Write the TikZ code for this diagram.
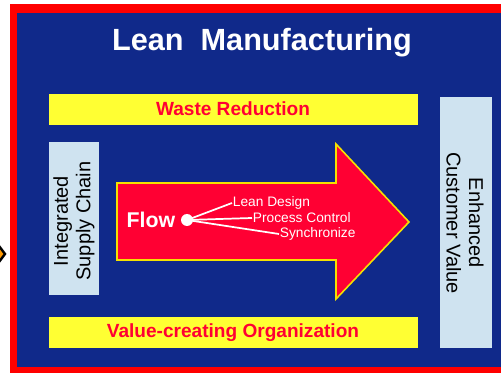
\documentclass[tikz,border=0pt]{standalone}
\usepackage{fontspec}
\setmainfont{Liberation Sans}
\definecolor{navy}{HTML}{10298A}
\definecolor{frame}{HTML}{FF0000}
\definecolor{barYellow}{HTML}{FFFF33}
\definecolor{paleBlue}{HTML}{CFE3F0}
\definecolor{arrowRed}{HTML}{FF0033}
\definecolor{edgeYellow}{HTML}{F5E100}
\tikzset{
  bar/.style={fill=barYellow, draw=none},
  sidebox/.style={fill=paleBlue, draw=none},
  bartext/.style={text=arrowRed, font=\bfseries\fontsize{14.3pt}{16pt}\selectfont, inner sep=0pt},
  sidetext/.style={text=black, font=\fontsize{15pt}{16.8pt}\selectfont, align=center, inner sep=0pt},
  subtext/.style={text=white, font=\fontsize{10.3pt}{12pt}\selectfont, anchor=west, inner sep=0.5pt},
  spoke/.style={draw=white, line width=1.3pt}
}
\begin{document}
\begin{tikzpicture}[x=0.75pt,y=-0.75pt]
\useasboundingbox (0,0) rectangle (501,374);
\clip (0,0) rectangle (501,374);
% frame and background
\fill[frame] (10,4) rectangle (520,373);
\fill[navy] (17,13) rectangle (520,367);
% partial diamond at left edge
\draw[black, line width=1.8pt, fill=orange!80!yellow] (-1,246) -- (5,254) -- (-1,262) -- (-7,254) -- cycle;
% title
\node[text=white, font=\bfseries\fontsize{23pt}{26pt}\selectfont, inner sep=0pt] (title) at (262,43) {Lean\ \ Manufacturing};
% bars
\fill[bar] (49,94) rectangle (418,125);
\node[bartext] (waste) at (233,109) {Waste Reduction};
\fill[bar] (49,317) rectangle (418,348);
\node[bartext] (value) at (233,333) {Value-creating Organization};
% side boxes
\fill[sidebox] (49,142) rectangle (99,295);
\node[sidetext, rotate=90] (chain) at (74,221) {Integrated\\Supply Chain};
\fill[sidebox] (440,97) rectangle (492,348);
\node[sidetext, rotate=-90] (cust) at (465,223) {Enhanced\\Customer Value};
% big arrow
\draw[fill=arrowRed, draw=edgeYellow, line width=1.2pt, line join=miter]
  (117,183) -- (336,183) -- (336,144) -- (409,222) -- (336,299) -- (336,260) -- (117,260) -- cycle;
% flow
\node[text=white, font=\bfseries\fontsize{16pt}{18pt}\selectfont, inner sep=0pt] (flow) at (151,220) {Flow};
\node[circle, fill=white, minimum size=9pt, inner sep=0pt] (dot) at (187,220) {};
\node[subtext] (ld) at (232,203) {Lean Design};
\node[subtext] (pc) at (252,218) {Process Control};
\node[subtext] (sy) at (279,234) {Synchronize};
\draw[spoke] (dot.center) -- (ld.west);
\draw[spoke] (dot.center) -- (pc.west);
\draw[spoke] (dot.center) -- (sy.west);
\end{tikzpicture}
\end{document}
